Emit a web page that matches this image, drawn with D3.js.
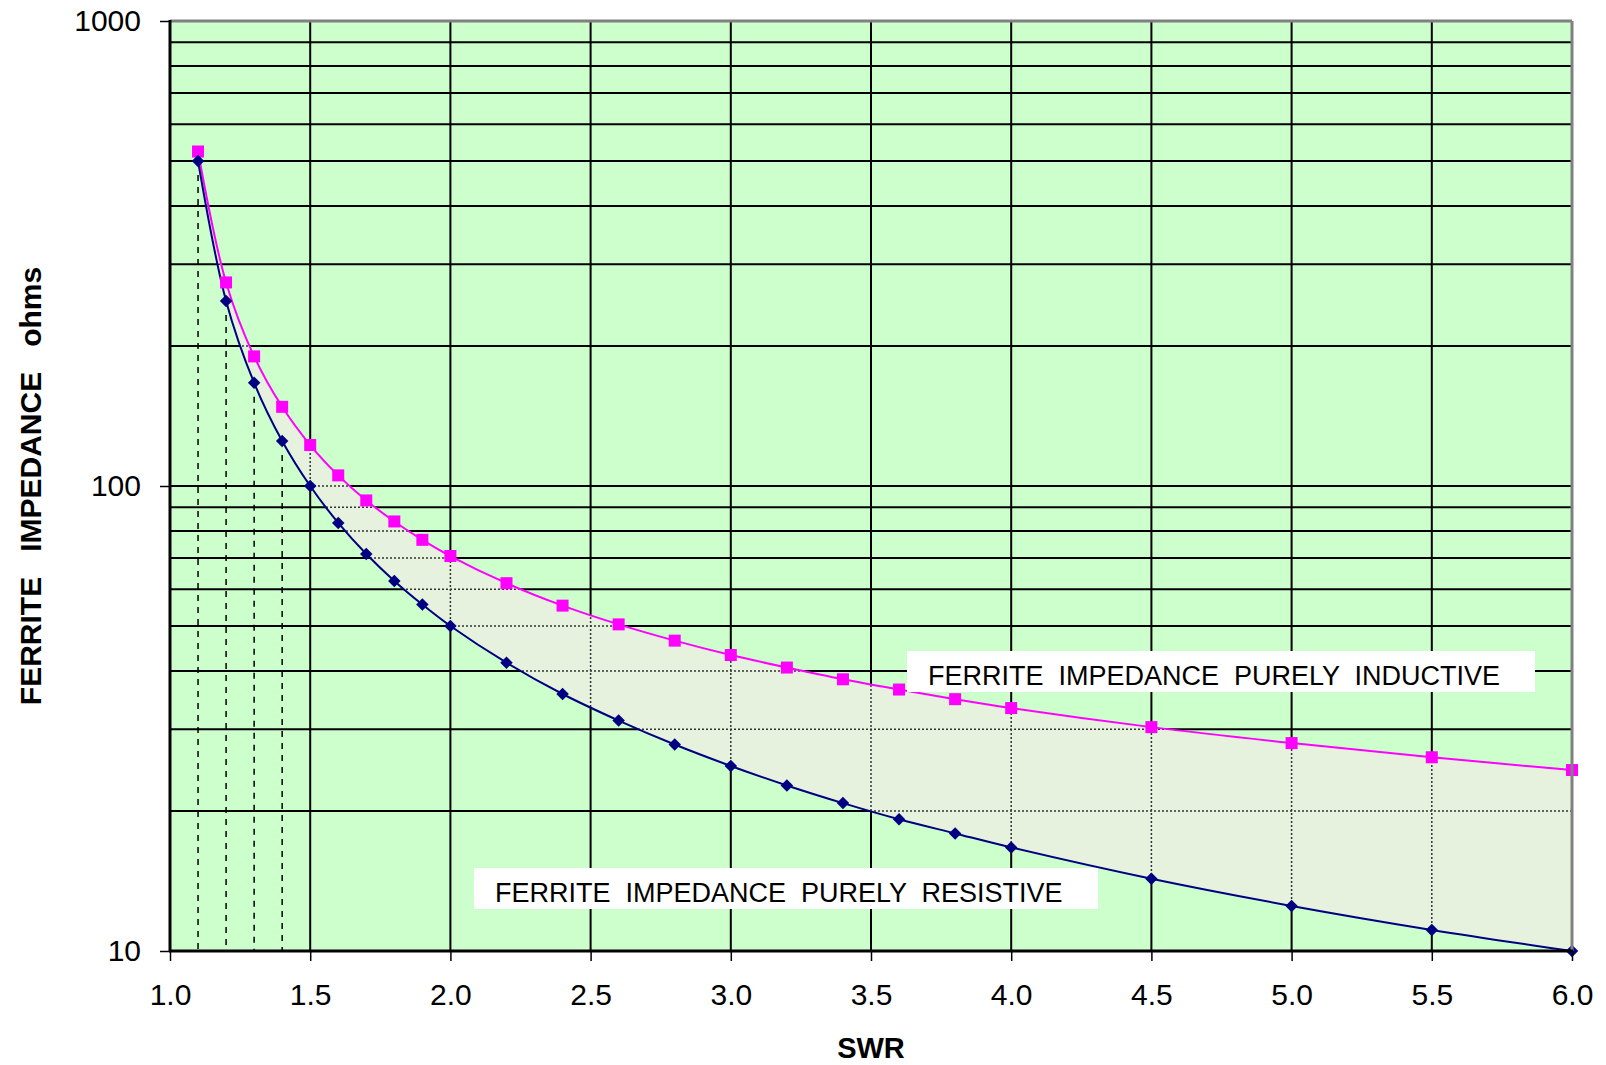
<!DOCTYPE html>
<html><head><meta charset="utf-8">
<script src="https://cdn.jsdelivr.net/npm/d3@7"></script>
<style>
html,body{margin:0;padding:0;background:#fff;}
svg{display:block;font-family:"Liberation Sans",Arial,sans-serif;}
</style></head>
<body>
<svg id="c" width="1606" height="1065"></svg>
<script>
// ---- data ----
const swr = [1.1,1.2,1.3,1.4,1.5,1.6,1.7,1.8,1.9,2.0,2.2,2.4,2.6,2.8,3.0,3.2,3.4,3.6,3.8,4.0,4.5,5.0,5.5,6.0];
const resistive = [500,250,166.7,125,100,83.3,71.4,62.5,55.6,50,41.7,35.7,31.3,27.8,25,22.7,20.8,19.2,17.9,16.7,14.3,12.5,11.1,10];
const inductive = [524,274,190,148,122.5,105.4,93.1,83.9,76.6,70.7,61.8,55.3,50.4,46.5,43.3,40.7,38.4,36.5,34.8,33.3,30.3,28.0,26.1,24.5];
const xTicks = [1.0,1.5,2.0,2.5,3.0,3.5,4.0,4.5,5.0,5.5,6.0];
const yTicks = [10,100,1000];
const yGrid = [20,30,40,50,60,70,80,90,100,200,300,400,500,600,700,800,900];
const dropX = [1.1,1.2,1.3,1.4];
const labelInductive = "FERRITE  IMPEDANCE  PURELY  INDUCTIVE";
const labelResistive = "FERRITE  IMPEDANCE  PURELY  RESISTIVE";
const xTitle = "SWR";
const yTitle = "FERRITE   IMPEDANCE   ohms";

// ---- layout ----
const L = 170, R = 1572, T = 21, B = 951;
const svg = d3.select("#c");
const x = d3.scaleLinear().domain([1,6]).range([L,R]);
const y = d3.scaleLog().domain([10,1000]).range([B,T]);
const pts = swr.map((s,i)=>({s, r:resistive[i], l:inductive[i]}));

// background
svg.append("rect").attr("x",L).attr("y",T).attr("width",R-L).attr("height",B-T).attr("fill","#ccffcc");

// solid grid
const g = svg.append("g");
g.selectAll("line.h").data(yGrid).join("line")
  .attr("x1",L).attr("x2",R).attr("y1",d=>y(d)).attr("y2",d=>y(d))
  .attr("stroke","#000").attr("stroke-width",2);
g.selectAll("line.v").data(xTicks.slice(1,-1)).join("line")
  .attr("y1",T).attr("y2",B).attr("x1",d=>x(d)).attr("x2",d=>x(d))
  .attr("stroke","#000").attr("stroke-width",2);

// area between curves
const curve = d3.curveCatmullRom.alpha(0.5);
const area = d3.area().x(d=>x(d.s)).y0(d=>y(d.r)).y1(d=>y(d.l)).curve(curve);
svg.append("clipPath").attr("id","ac").append("path").attr("d",area(pts));
svg.append("path").attr("d",area(pts)).attr("fill","#e6f1de");

// dotted grid inside area
const dg = svg.append("g").attr("clip-path","url(#ac)");
dg.selectAll("line.h").data(yGrid).join("line")
  .attr("x1",L).attr("x2",R).attr("y1",d=>y(d)).attr("y2",d=>y(d))
  .attr("stroke","#333").attr("stroke-width",1.5).attr("stroke-dasharray","2,2");
dg.selectAll("line.v").data(xTicks.slice(1,-1)).join("line")
  .attr("y1",T).attr("y2",B).attr("x1",d=>x(d)).attr("x2",d=>x(d))
  .attr("stroke","#333").attr("stroke-width",1.5).attr("stroke-dasharray","2,2");

// dashed drop lines
svg.selectAll("line.drop").data(dropX).join("line")
  .attr("x1",d=>x(d)).attr("x2",d=>x(d))
  .attr("y1",(d)=>y(resistive[swr.indexOf(d)])+14).attr("y2",B)
  .attr("stroke","#000").attr("stroke-width",1.5).attr("stroke-dasharray","6,6");

// lines
const lineR = d3.line().x(d=>x(d.s)).y(d=>y(d.r)).curve(curve);
const lineL = d3.line().x(d=>x(d.s)).y(d=>y(d.l)).curve(curve);
svg.append("path").attr("d",lineL(pts)).attr("fill","none").attr("stroke","#ff00ff").attr("stroke-width",2);
svg.append("path").attr("d",lineR(pts)).attr("fill","none").attr("stroke","#000080").attr("stroke-width",2);

// markers
svg.selectAll("rect.sq").data(pts).join("rect")
  .attr("x",d=>x(d.s)-6).attr("y",d=>y(d.l)-6).attr("width",12).attr("height",12).attr("fill","#ff00ff");
svg.selectAll("path.dm").data(pts).join("path")
  .attr("d",d3.symbol().type(d3.symbolSquare).size(78))
  .attr("transform",d=>`translate(${x(d.s)},${y(d.r)}) rotate(45)`).attr("fill","#000080");

// legend boxes
function box(x0,y0,w,h,tx,txt){
  svg.append("rect").attr("x",x0).attr("y",y0).attr("width",w).attr("height",h).attr("fill","#fff");
  svg.append("text").attr("x",tx).attr("y",y0+h/2+13).attr("font-size",27)
    .style("white-space","pre").attr("fill","#000").text(txt);
}
box(907,651,628,41,928,labelInductive);
box(474,868,624,41,495,labelResistive);

// axes
const xa = svg.append("g").attr("transform",`translate(0,${B})`)
  .call(d3.axisBottom(x).tickValues(xTicks).tickFormat(d3.format(".1f")).tickSize(10).tickPadding(23));
xa.select(".domain").remove();
xa.selectAll("line").attr("stroke","#000").attr("stroke-width",1.5);
xa.selectAll("text").attr("font-size",30).attr("font-family","Liberation Sans, Arial, sans-serif").attr("fill","#000");
const ya = svg.append("g").attr("transform",`translate(${L},0)`)
  .call(d3.axisLeft(y).tickValues(yTicks).tickFormat(d3.format("d")).tickSize(10).tickPadding(19));
ya.select(".domain").remove();
ya.selectAll("line").attr("stroke","#000").attr("stroke-width",1.5);
ya.selectAll("text").attr("font-size",30).attr("font-family","Liberation Sans, Arial, sans-serif").attr("fill","#000");

// frame
svg.append("line").attr("x1",L).attr("x2",R).attr("y1",T).attr("y2",T).attr("stroke","#808080").attr("stroke-width",3);
svg.append("line").attr("x1",R).attr("x2",R).attr("y1",T).attr("y2",B).attr("stroke","#808080").attr("stroke-width",3);
svg.append("line").attr("x1",L).attr("x2",L).attr("y1",T-1).attr("y2",B+1).attr("stroke","#000").attr("stroke-width",3);
svg.append("line").attr("x1",L-1).attr("x2",R+1).attr("y1",B).attr("y2",B).attr("stroke","#000").attr("stroke-width",3);

// titles
svg.append("text").attr("x",(L+R)/2).attr("y",1058).attr("text-anchor","middle")
  .attr("font-size",29).attr("font-weight","bold").text(xTitle);
svg.append("text").attr("transform",`translate(41,${(T+B)/2}) rotate(-90)`).attr("text-anchor","middle")
  .attr("font-size",30).attr("font-weight","bold").style("white-space","pre").text(yTitle);
</script>
</body></html>
